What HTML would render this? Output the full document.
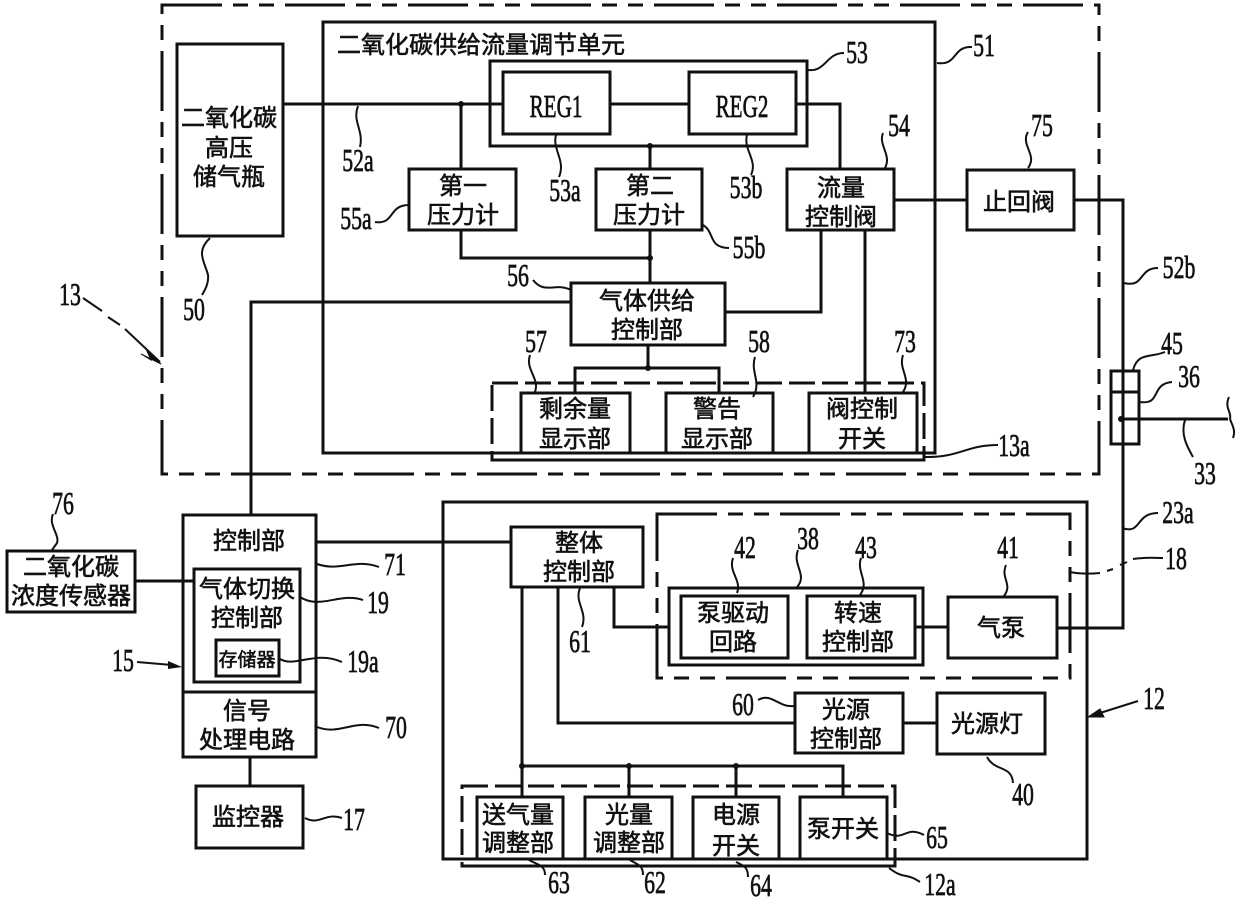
<!DOCTYPE html>
<html><head><meta charset="utf-8"><style>
html,body{margin:0;padding:0;background:#fff}
svg{display:block}
text{font-family:"Liberation Sans","Noto Sans CJK SC",sans-serif;fill:#111;stroke:#111;stroke-width:.6;text-anchor:middle;font-size:24px}
.n{font-family:"Liberation Serif",serif;font-size:32px;stroke-width:.7}
.s{stroke:#111;stroke-width:3;fill:none}
.t{stroke:#111;stroke-width:2;fill:none}
.d{stroke:#111;stroke-width:3;fill:none;stroke-dasharray:60 11 15 11 15 11}
.d2{stroke:#111;stroke-width:3;fill:none;stroke-dasharray:26 7}
</style></head><body>
<svg width="1240" height="902" viewBox="0 0 1240 902" xmlns="http://www.w3.org/2000/svg">
<!-- dashed frames -->
<rect class="d" x="162" y="5" width="937" height="469"/>
<rect class="d" x="657" y="514" width="413" height="164"/>
<rect class="d2" x="492" y="383" width="432" height="77"/>
<path class="s" d="M492 460H924"/>
<rect class="d2" x="462" y="786" width="433" height="80"/>
<path class="s" d="M462 866H895"/>
<!-- solid frames -->
<rect class="s" x="323" y="22" width="612" height="431"/>
<rect class="s" x="443" y="502" width="644" height="357"/>
<rect class="s" x="490" y="61" width="317" height="85"/>
<rect class="s" x="177" y="44" width="106" height="192"/>
<rect class="s" x="503" y="72" width="107" height="62"/>
<rect class="s" x="689" y="72" width="107" height="62"/>
<rect class="s" x="409" y="169" width="107" height="61"/>
<rect class="s" x="596" y="169" width="106" height="61"/>
<rect class="s" x="787" y="169" width="107" height="61"/>
<rect class="s" x="967" y="170" width="107" height="60"/>
<rect class="s" x="571" y="283" width="154" height="62"/>
<rect class="s" x="521" y="393" width="109" height="60"/>
<rect class="s" x="666" y="393" width="107" height="60"/>
<rect class="s" x="809" y="393" width="108" height="60"/>
<rect class="s" x="1111" y="371" width="28" height="73"/>
<path class="s" d="M1111 392H1139"/>
<rect class="s" x="183" y="515" width="133" height="177"/>
<rect class="s" x="183" y="692" width="133" height="65"/>
<rect class="s" x="194" y="569" width="106" height="113"/>
<rect class="s" x="216" y="640" width="63" height="36"/>
<rect class="s" x="7" y="551" width="128" height="61"/>
<rect class="s" x="196" y="786" width="107" height="62"/>
<rect class="s" x="511" y="527" width="132" height="60"/>
<rect class="s" x="669" y="588" width="254" height="77"/>
<rect class="s" x="681" y="596" width="107" height="62"/>
<rect class="s" x="807" y="596" width="108" height="62"/>
<rect class="s" x="948" y="597" width="109" height="61"/>
<rect class="s" x="795" y="693" width="108" height="60"/>
<rect class="s" x="937" y="693" width="108" height="61"/>
<rect class="s" x="477" y="797" width="86" height="62"/>
<rect class="s" x="585" y="797" width="87" height="62"/>
<rect class="s" x="693" y="797" width="86" height="62"/>
<rect class="s" x="800" y="797" width="87" height="62"/>
<!-- connectors -->
<path class="s" d="M283 104H503M610 104H689M796 104H840V169M461 104V169M650 146V169M894 200H967M1074 200H1123V628H1057M1121 419H1228M461 230V258H650M650 230V283M821 230V312H725M865 230V393M648 345V368M575 393V368H719V393M251 515V302H571"/>
<path class="s" d="M316 542H511M135 581H194M250 757V786M903 723H937M915 627H948M614 587V627H669M522 587V797M558 587V723H795M522 766H843V797M629 766V797M736 766V797"/>
<path class="t" d="M1229 397C1224 408 1232 412 1230 419C1232 425 1236 430 1233 438"/>
<g fill="#111"><circle cx="461" cy="104" r="3"/><circle cx="650" cy="146" r="3"/><circle cx="650" cy="258" r="3"/><circle cx="648" cy="368" r="3"/><circle cx="629" cy="766" r="3"/><circle cx="736" cy="766" r="3"/><circle cx="522" cy="766" r="3"/><circle cx="1121" cy="419" r="3"/></g>
<!-- leaders -->
<path class="t" d="M808 70C826 72 826 53 844 53M937 63C958 66 952 46 972 47M358 106C352 122 364 130 360 147M556 135C552 150 566 160 559 177M747 135C743 150 758 160 751 175M885 168C892 155 878 145 883 133M1028 168C1038 155 1020 145 1028 132M210 238C195 252 205 262 208 275C209 283 205 290 202 295M375 222C395 225 388 205 409 205M703 225C715 232 708 248 729 248M533 280C545 295 555 282 571 290M530 355C525 370 540 378 535 392M755 357C750 372 762 382 753 397M903 355C898 370 912 378 903 392"/>
<path class="t" d="M1124 283C1145 288 1138 268 1158 268M1133 370C1138 352 1150 358 1165 352M1140 402C1162 405 1150 384 1172 382M1185 420C1180 435 1188 448 1193 457M923 457C960 458 965 445 998 445M1122 528C1142 535 1135 513 1158 513M1070 572C1080 574 1090 574 1100 573M1107 571L1113 569M1120 565L1127 562M1133 559C1145 557 1155 558 1163 558"/>
<path class="t" d="M53 514C48 525 60 535 57 543L52 550M317 564C340 572 355 558 379 567M300 597C320 610 340 592 363 600M280 659C295 668 315 650 342 662M317 727C340 736 355 718 379 728M305 818C320 826 325 812 342 818"/>
<path class="t" d="M733 558C728 572 742 580 737 593M798 550C792 565 808 575 797 587M861 558C856 572 870 582 860 595M1006 565C1000 578 1014 585 1003 597M580 588C574 602 588 612 582 627M758 700C772 692 778 708 794 706M987 757C995 772 1012 765 1013 783M529 860C538 865 545 865 545 875M630 860C638 865 643 865 643 875M736 862C745 866 748 868 748 877M887 833C905 842 905 825 924 835M889 868C905 880 905 872 920 882"/>
<!-- arrows -->
<path class="t" d="M83 298L102 311M108 317L120 325M125 329L160 362"/>
<path d="M161 364L146 349L151 360L141 354Z" fill="#111" stroke="#111"/>
<path class="t" d="M137 662L172 665"/>
<path d="M182 667L168 661V669Z" fill="#111"/>
<path class="t" d="M1138 701L1100 713"/>
<path d="M1088 717L1100 709L1104 717Z" fill="#111" stroke="#111"/>
<!-- CJK labels -->
<text x="481" y="53">二氧化碳供给流量调节单元</text>
<text x="229" y="126">二氧化碳</text><text x="229" y="156">高压</text><text x="229" y="185">储气瓶</text>
<text class="n" transform="translate(556 117) scale(.66 1)">REG1</text><text class="n" transform="translate(742 117) scale(.66 1)">REG2</text>
<text x="463" y="194">第一</text><text x="463" y="223">压力计</text>
<text x="650" y="194">第二</text><text x="649" y="223">压力计</text>
<text x="841" y="196">流量</text><text x="841" y="225">控制阀</text>
<text x="1019" y="210">止回阀</text>
<text x="647" y="309">气体供给</text><text x="647" y="338">控制部</text>
<text x="575" y="417">剩余量</text><text x="575" y="447">显示部</text>
<text x="717" y="417">警告</text><text x="717" y="447">显示部</text>
<text x="862" y="417">阀控制</text><text x="862" y="447">开关</text>
<text x="249" y="549">控制部</text>
<text x="71" y="575">二氧化碳</text><text x="71" y="604">浓度传感器</text>
<text x="247" y="597">气体切换</text><text x="247" y="626">控制部</text>
<text x="247" y="666" style="font-size:19px">存储器</text>
<text x="247" y="719">信号</text><text x="247" y="748">处理电路</text>
<text x="248" y="825">监控器</text>
<text x="579" y="551">整体</text><text x="579" y="580">控制部</text>
<text x="733" y="621">泵驱动</text><text x="733" y="650">回路</text>
<text x="858" y="621">转速</text><text x="858" y="650">控制部</text>
<text x="1001" y="636">气泵</text>
<text x="846" y="718">光源</text><text x="846" y="747">控制部</text>
<text x="987" y="732">光源灯</text>
<text x="518" y="823">送气量</text><text x="518" y="851">调整部</text>
<text x="629" y="823">光量</text><text x="629" y="851">调整部</text>
<text x="736" y="823">电源</text><text x="736" y="854">开关</text>
<text x="843" y="837">泵开关</text>
<!-- numbers -->
<g transform="translate(0 1)">
<text class="n" transform="translate(857 62) scale(.68 1)">53</text>
<text class="n" transform="translate(984 55) scale(.68 1)">51</text>
<text class="n" transform="translate(358 170) scale(.68 1)">52a</text>
<text class="n" transform="translate(565 200) scale(.68 1)">53a</text>
<text class="n" transform="translate(746 197) scale(.68 1)">53b</text>
<text class="n" transform="translate(899 135) scale(.68 1)">54</text>
<text class="n" transform="translate(1042 135) scale(.68 1)">75</text>
<text class="n" transform="translate(194 319) scale(.68 1)">50</text>
<text class="n" transform="translate(356 228) scale(.68 1)">55a</text>
<text class="n" transform="translate(749 257) scale(.68 1)">55b</text>
<text class="n" transform="translate(518 285) scale(.68 1)">56</text>
<text class="n" transform="translate(536 351) scale(.68 1)">57</text>
<text class="n" transform="translate(759 351) scale(.68 1)">58</text>
<text class="n" transform="translate(905 351) scale(.68 1)">73</text>
<text class="n" transform="translate(70 304) scale(.68 1)">13</text>
<text class="n" transform="translate(1179 277) scale(.68 1)">52b</text>
<text class="n" transform="translate(1172 353) scale(.68 1)">45</text>
<text class="n" transform="translate(1189 386) scale(.68 1)">36</text>
<text class="n" transform="translate(1205 483) scale(.68 1)">33</text>
<text class="n" transform="translate(1014 455) scale(.68 1)">13a</text>
<text class="n" transform="translate(1178 522) scale(.68 1)">23a</text>
<text class="n" transform="translate(1176 568) scale(.68 1)">18</text>
<text class="n" transform="translate(63 513) scale(.68 1)">76</text>
<text class="n" transform="translate(395 574) scale(.68 1)">71</text>
<text class="n" transform="translate(378 612) scale(.68 1)">19</text>
<text class="n" transform="translate(363 671) scale(.68 1)">19a</text>
<text class="n" transform="translate(123 670) scale(.68 1)">15</text>
<text class="n" transform="translate(396 737) scale(.68 1)">70</text>
<text class="n" transform="translate(354 829) scale(.68 1)">17</text>
<text class="n" transform="translate(745 557) scale(.68 1)">42</text>
<text class="n" transform="translate(808 548) scale(.68 1)">38</text>
<text class="n" transform="translate(866 557) scale(.68 1)">43</text>
<text class="n" transform="translate(1008 557) scale(.68 1)">41</text>
<text class="n" transform="translate(580 651) scale(.68 1)">61</text>
<text class="n" transform="translate(743 714) scale(.68 1)">60</text>
<text class="n" transform="translate(1154 708) scale(.68 1)">12</text>
<text class="n" transform="translate(1023 804) scale(.68 1)">40</text>
<text class="n" transform="translate(559 892) scale(.68 1)">63</text>
<text class="n" transform="translate(655 892) scale(.68 1)">62</text>
<text class="n" transform="translate(761 895) scale(.68 1)">64</text>
<text class="n" transform="translate(937 847) scale(.68 1)">65</text>
<text class="n" transform="translate(940 894) scale(.68 1)">12a</text>
</g>
</svg>
</body></html>
